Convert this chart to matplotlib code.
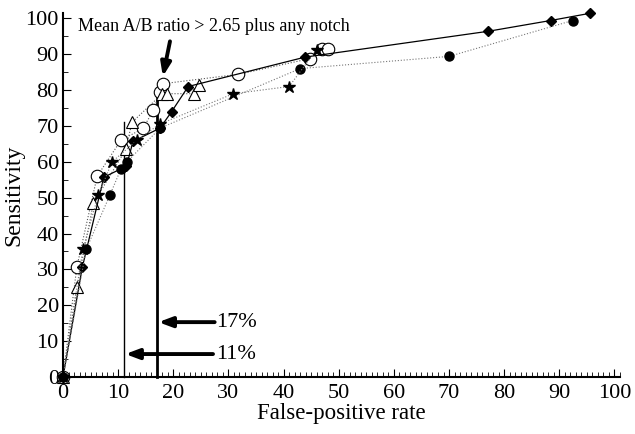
import numpy as np
import matplotlib
matplotlib.use("Agg")
import matplotlib.pyplot as plt
from matplotlib.ticker import MultipleLocator

# data ########################################################################
diam_x = [0, 3.5, 7.4, 11.5, 12.7, 17.6, 19.7, 22.7, 43.9, 77.1, 88.4, 95.5]
diam_y = [0, 30.6, 55.7, 58.8, 65.7, 69.4, 74.0, 81.0, 89.2, 96.4, 99.4, 101.4]

ocirc_x = [0, 2.5, 6.2, 10.5, 14.5, 16.4, 17.6, 18.2, 31.8, 44.8, 47.0, 48.0]
ocirc_y = [0, 30.6, 56.0, 66.0, 69.3, 74.4, 79.5, 81.8, 84.4, 88.8, 91.6, 91.6]

tri_x = [0, 2.5, 5.5, 11.4, 12.5, 18.0, 18.9, 23.8, 24.7]
tri_y = [0, 25.0, 48.4, 63.5, 71.0, 79.0, 79.0, 79.0, 81.3]

fcirc_x = [0, 4.2, 8.5, 10.5, 11.6, 17.6, 43.0, 70.0, 92.4]
fcirc_y = [0, 35.6, 50.7, 58.0, 60.0, 69.4, 86.0, 89.4, 99.4]

star_x = [0, 3.6, 6.4, 8.9, 13.4, 17.5, 30.9, 41.0, 46.0]
star_y = [0, 35.6, 50.7, 60.0, 66.0, 70.5, 79.0, 81.0, 91.3]

cut_lo, cut_lo_top = 11, 71
cut_hi, cut_hi_top = 17, 79

note = "Mean A/B ratio > 2.65 plus any notch"

# figure ######################################################################
plt.rcParams['font.family'] = ['Liberation Serif', 'DejaVu Serif']

fig = plt.figure(figsize=(6.35, 4.34), dpi=100)
ax = fig.add_axes([63/635, 57/434, 557/635, 364/434])

ax.plot(diam_x, diam_y, '-', color='black', lw=0.9, marker='D', ms=5,
        mfc='black', mec='black', zorder=4)
ax.plot(ocirc_x, ocirc_y, ':', color='#555555', lw=0.8, marker='o', ms=9,
        mfc='white', mec='black', mew=0.8, zorder=3)
ax.plot(tri_x, tri_y, ':', color='#555555', lw=0.8, marker='^', ms=9,
        mfc='white', mec='black', mew=0.8, zorder=3)
ax.plot(fcirc_x, fcirc_y, ':', color='#777777', lw=0.8, marker='o', ms=6.5,
        mfc='black', mec='black', zorder=4)
ax.plot(star_x, star_y, ':', color='#777777', lw=0.8, marker='*', ms=9,
        mfc='black', mec='black', zorder=4)

# cut-off lines and arrows
ax.plot([cut_lo, cut_lo], [0, cut_lo_top], color='black', lw=1.0, zorder=2)
ax.plot([cut_hi, cut_hi], [0, cut_hi_top], color='black', lw=2.0, zorder=2)

arr = dict(arrowstyle='-|>,head_length=0.8,head_width=0.3', color='black',
           lw=2.8, shrinkA=0, shrinkB=0)
ax.annotate('', xy=(cut_hi + 0.3, 15.3), xytext=(27.5, 15.3), arrowprops=arr)
ax.annotate('', xy=(cut_lo + 0.3, 6.4), xytext=(27.2, 6.4), arrowprops=arr)
ax.text(27.8, 15.3, '17%', fontsize=16, va='center', ha='left')
ax.text(27.8, 6.4, '11%', fontsize=16, va='center', ha='left')

ax.annotate('', xy=(18.1, 83.8), xytext=(19.4, 93.6), arrowprops=arr)
ax.text(2.7, 97.6, note, fontsize=13, va='center', ha='left')

# axes styling
ax.set_xlim(0, 101)
ax.set_ylim(0, 101.5)
ax.spines['top'].set_visible(False)
ax.spines['right'].set_visible(False)
ax.spines['left'].set_linewidth(1.5)
ax.spines['bottom'].set_linewidth(1.5)

ax.xaxis.set_major_locator(MultipleLocator(10))
ax.xaxis.set_minor_locator(MultipleLocator(1))
ax.yaxis.set_major_locator(MultipleLocator(10))
ax.yaxis.set_minor_locator(MultipleLocator(5))
ax.tick_params(which='major', direction='in', length=6, width=0.8, labelsize=16)
ax.tick_params(which='minor', direction='in', length=3.5, width=0.6)
ax.tick_params(axis='x', pad=5)
ax.tick_params(axis='y', pad=3)

ax.set_xlabel("False-positive rate", fontsize=16.5, labelpad=0)
ax.set_ylabel("Sensitivity", fontsize=17, labelpad=1)

for sp in ax.spines.values():
    sp.set_zorder(5)
for ln in ax.lines:
    ln.set_clip_on(False)

plt.savefig("out.png", dpi=100)
